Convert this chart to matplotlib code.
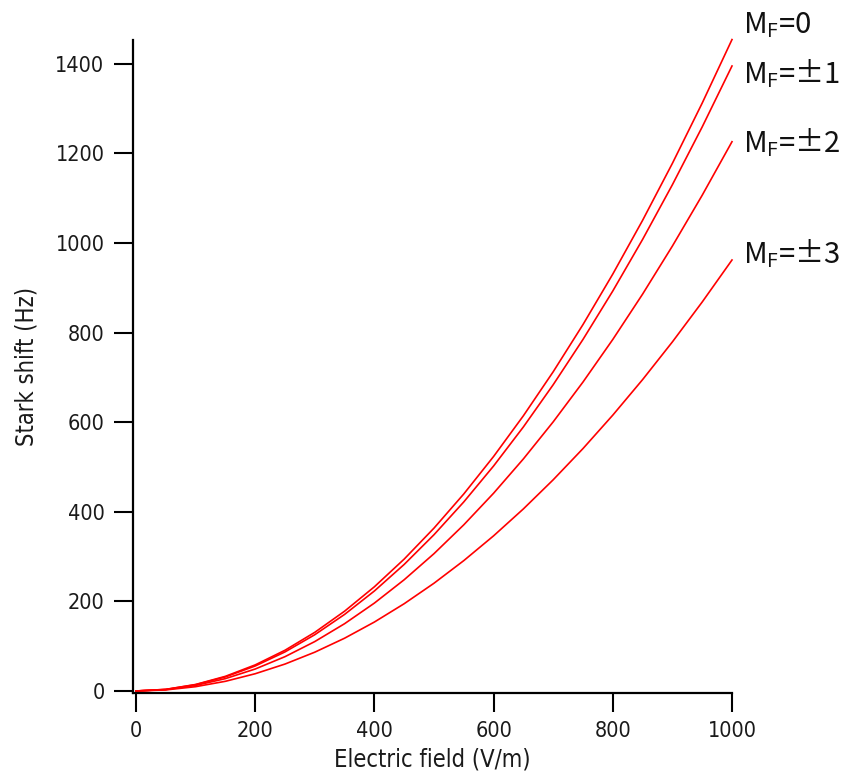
import matplotlib
matplotlib.use("Agg")
import matplotlib.pyplot as plt

# Electric field (V/m)
field = [0, 50, 100, 150, 200, 250, 300, 350, 400, 450, 500,
         550, 600, 650, 700, 750, 800, 850, 900, 950, 1000]

# Stark shift (Hz)
shift_mf0 = [0, 3.6, 14.5, 32.7, 58.2, 90.9, 130.9, 178.1, 232.6, 294.4, 363.5,
             439.8, 523.4, 614.3, 712.5, 817.9, 930.6, 1050.5, 1177.7, 1312.2, 1454]
shift_mf1 = [0, 3.5, 14.0, 31.4, 55.8, 87.2, 125.6, 170.9, 223.2, 282.5, 348.8,
             422.0, 502.2, 589.4, 683.6, 784.7, 892.8, 1007.9, 1130.0, 1259.0, 1395]
shift_mf2 = [0, 3.1, 12.3, 27.6, 49.0, 76.6, 110.3, 150.2, 196.2, 248.3, 306.5,
             370.9, 441.4, 518.0, 600.7, 689.6, 784.6, 885.8, 993.1, 1106.5, 1226]
shift_mf3 = [0, 2.4, 9.6, 21.6, 38.5, 60.1, 86.6, 117.8, 153.9, 194.8, 240.5,
             291.0, 346.3, 406.4, 471.4, 541.1, 615.7, 695.0, 779.2, 868.2, 962]

labels = ["=0", "=±1", "=±2", "=±3"]
label_y = [1468, 1357, 1203, 955]

x_ticks = [0, 200, 400, 600, 800, 1000]
y_ticks = [0, 200, 400, 600, 800, 1000, 1200, 1400]

plt.rcParams['mathtext.fontset'] = 'custom'
plt.rcParams['mathtext.rm'] = 'Open Sans'
plt.rcParams['mathtext.it'] = 'Open Sans'

tick_font = ['DejaVu Sans', 'Liberation Sans']

fig = plt.figure(figsize=(8.54, 7.78), dpi=100)
ax = fig.add_axes([133/854, 85/778, 599/854, 653/778])

for s in [shift_mf0, shift_mf1, shift_mf2, shift_mf3]:
    ax.plot(field, s, color='#ff0000', lw=1.2, clip_on=False)

ax.set_xlim(-5, 1000)
ax.set_ylim(-4.5, 1453)
ax.spines['top'].set_visible(False)
ax.spines['right'].set_visible(False)
for sp in ['left', 'bottom']:
    ax.spines[sp].set_linewidth(1.6)

ax.set_xticks(x_ticks)
ax.set_yticks(y_ticks)
ax.tick_params(direction='out', length=13.5, width=1.5, pad=7)
for lab in ax.get_xticklabels() + ax.get_yticklabels():
    lab.set_family(tick_font)
    lab.set_fontsize(15.5)
    lab.set_fontstretch('condensed')
    lab.set_color('#1a1a1a')

ax.set_xlabel("Electric field (V/m)", fontsize=17, family=tick_font,
              fontstretch='condensed', labelpad=4, color='#1a1a1a')
ax.set_ylabel("Stark shift (Hz)", fontsize=17, family=tick_font,
              fontstretch='condensed', labelpad=12, color='#1a1a1a')

for lab, yv in zip(labels, label_y):
    ax.text(1019, yv, r"M$_\mathrm{F}$" + lab, fontsize=21,
            family=['Noto Sans CJK JP', 'Open Sans'], va='baseline', ha='left',
            clip_on=False, color='#111111')

fig.savefig("out.png", dpi=100)
